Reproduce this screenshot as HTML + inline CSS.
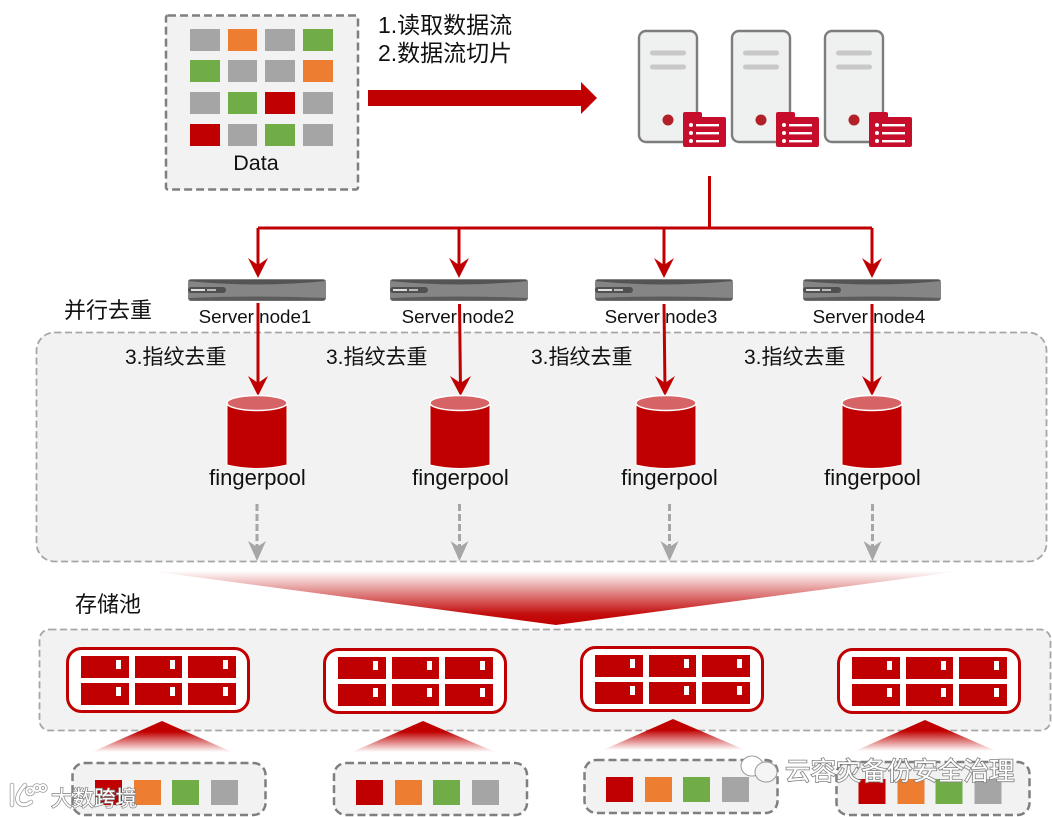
<!DOCTYPE html>
<html><head><meta charset="utf-8">
<style>
html,body{margin:0;padding:0;background:#fff;width:1052px;height:817px;overflow:hidden}
svg{display:block}
text{font-family:"Liberation Sans","Noto Sans CJK SC",sans-serif;fill:#111}
.z{font-size:21px}
.f{font-size:22px;text-anchor:middle}
.s{font-size:18.800px;text-anchor:middle}
.wm{fill:#fff;stroke:#808080;paint-order:stroke}
</style></head><body>
<svg width="1052" height="817" viewBox="0 0 1052 817" xmlns="http://www.w3.org/2000/svg">
<defs>
<linearGradient id="g" x1="0" y1="0" x2="0" y2="1"><stop offset="0" stop-color="#c00000" stop-opacity="0"/><stop offset=".8" stop-color="#c00000" stop-opacity=".95"/><stop offset="1" stop-color="#c00000"/></linearGradient>
<linearGradient id="g2" x1="0" y1="0" x2="0" y2="1"><stop offset="0" stop-color="#c00000"/><stop offset=".35" stop-color="#c00000"/><stop offset="1" stop-color="#c00000" stop-opacity="0"/></linearGradient>
<g id="srv">
<rect x="639" y="31" width="58" height="111" rx="7" fill="#eff0f0" stroke="#7d7d7d" stroke-width="2.400"/>
<rect x="650" y="50.500" width="36" height="5" rx="2.500" fill="#c8c8c8"/>
<rect x="650" y="64.500" width="36" height="5" rx="2.500" fill="#c8c8c8"/>
<circle cx="668" cy="120" r="5.500" fill="#b3202a"/>
<path d="M683 114q0-2 2-2h15q2 0 2 2v3h22q2 0 2 2v26q0 2-2 2h-39q-2 0-2-2z" fill="#c70d2c"/>
<g fill="#fff"><circle cx="691" cy="125" r="2"/><circle cx="691" cy="133" r="2"/><circle cx="691" cy="141" r="2"/>
<rect x="696" y="124" width="23" height="2.400"/><rect x="696" y="132" width="23" height="2.400"/><rect x="696" y="140" width="23" height="2.400"/></g>
</g>
<g id="node">
<rect x="188" y="279" width="138" height="22" rx="3" fill="#858585"/>
<path d="M190 280H324L326 281Q257 288 188 281Z" fill="#545454"/>
<path d="M188 298Q257 295 326 298L324 300.500H190Z" fill="#5c5c5c"/>
<rect x="188" y="287" width="38" height="6" rx="3" fill="#505050"/>
<rect x="191" y="289" width="14" height="2" fill="#e0e0e0"/><rect x="207" y="289" width="9" height="2" fill="#bbb"/>
</g>
<g id="cyl">
<path d="M227 403V465Q257 472 287 465V403Z" fill="#c00000" stroke="#fff" stroke-width="1"/>
<ellipse cx="257" cy="403" rx="30" ry="7.500" fill="#d66467" stroke="#fff" stroke-width="1.500"/>
</g>
<g id="rack">
<rect x="67.500" y="648.500" width="181" height="63" rx="14" fill="#fff" stroke="#c00000" stroke-width="3"/>
<g fill="#c00000">
<rect x="81" y="656" width="48" height="22"/><rect x="135" y="656" width="47" height="22"/><rect x="188" y="656" width="48" height="22"/>
<rect x="81" y="683" width="48" height="22"/><rect x="135" y="683" width="47" height="22"/><rect x="188" y="683" width="48" height="22"/>
</g>
<g fill="#fff">
<rect x="116" y="660" width="5" height="9"/><rect x="170" y="660" width="5" height="9"/><rect x="223" y="660" width="5" height="9"/>
<rect x="116" y="687" width="5" height="9"/><rect x="170" y="687" width="5" height="9"/><rect x="223" y="687" width="5" height="9"/>
</g>
</g>
<g id="bins">
<rect x="95" y="780" width="27" height="25" fill="#c00000"/><rect x="134" y="780" width="27" height="25" fill="#ed7d31"/>
<rect x="172" y="780" width="27" height="25" fill="#70ad47"/><rect x="211" y="780" width="27" height="25" fill="#a5a5a5"/>
</g>
</defs>

<rect x="0" y="0" width="1052" height="817" fill="#fff"/>

<!-- data box -->
<rect x="166" y="15.500" width="192" height="174" rx="2" fill="#f2f2f2" stroke="#7f7f7f" stroke-width="2.500" stroke-dasharray="8 4"/>
<g>
<rect x="190" y="29" width="30" height="22" fill="#a5a5a5"/><rect x="228" y="29" width="29" height="22" fill="#ed7d31"/><rect x="265" y="29" width="30" height="22" fill="#a5a5a5"/><rect x="303" y="29" width="30" height="22" fill="#70ad47"/>
<rect x="190" y="60" width="30" height="22" fill="#70ad47"/><rect x="228" y="60" width="29" height="22" fill="#a5a5a5"/><rect x="265" y="60" width="30" height="22" fill="#a5a5a5"/><rect x="303" y="60" width="30" height="22" fill="#ed7d31"/>
<rect x="190" y="92" width="30" height="22" fill="#a5a5a5"/><rect x="228" y="92" width="29" height="22" fill="#70ad47"/><rect x="265" y="92" width="30" height="22" fill="#c00000"/><rect x="303" y="92" width="30" height="22" fill="#a5a5a5"/>
<rect x="190" y="124" width="30" height="22" fill="#c00000"/><rect x="228" y="124" width="29" height="22" fill="#a5a5a5"/><rect x="265" y="124" width="30" height="22" fill="#70ad47"/><rect x="303" y="124" width="30" height="22" fill="#a5a5a5"/>
</g>
<text x="256" y="170" class="f" style="font-size:21.500px">Data</text>
<text x="378" y="33" style="font-size:23px">1.读取数据流</text>
<text x="378" y="61" style="font-size:23px">2.数据流切片</text>
<polygon points="368,90 581,90 581,82 597,98 581,114 581,106 368,106" fill="#c00000"/>

<!-- servers -->
<use href="#srv"/><use href="#srv" x="93"/><use href="#srv" x="186"/>

<!-- distribution -->
<g fill="none" stroke="#c00000" stroke-width="3">
<path d="M709.500 176V228M258 228H872M258 228V272M459 228V272M664 228V272M872 228V272"/>
</g>
<g fill="#c00000">
<path d="M248 258L258 265L268 258L258 278Z"/>
<path d="M449 258L459 265L469 258L459 278Z"/>
<path d="M654 258L664 265L674 258L664 278Z"/>
<path d="M862 258L872 265L882 258L872 278Z"/>
</g>

<!-- nodes -->
<use href="#node"/><use href="#node" x="202"/><use href="#node" x="407"/><use href="#node" x="615"/>

<!-- parallel region -->
<text x="64" y="318" style="font-size:22px">并行去重</text>
<rect x="36.500" y="332.500" width="1010" height="229" rx="18" fill="#f2f2f2" stroke="#a6a6a6" stroke-width="1.800" stroke-dasharray="7 3.500"/>

<text x="255" y="323" class="s">Server node1</text>
<text x="458" y="323" class="s">Server node2</text>
<text x="661" y="323" class="s">Server node3</text>
<text x="869" y="323" class="s">Server node4</text>

<text x="125" y="364" class="z">3.指纹去重</text>
<text x="326" y="364" class="z">3.指纹去重</text>
<text x="531" y="364" class="z">3.指纹去重</text>
<text x="744" y="364" class="z">3.指纹去重</text>

<g stroke="#c00000" stroke-width="3" fill="none">
<path d="M258 303V390M459.500 304L460.500 390M664 304L665 390M872 304V390"/>
</g>
<g fill="#c00000">
<path d="M248 376L258 383L268 376L258 396Z"/>
<path d="M450 376L460.500 383L471 376L460.500 396Z"/>
<path d="M655 376L665 383L675 376L665 396Z"/>
<path d="M862 376L872 383L882 376L872 396Z"/>
</g>

<use href="#cyl"/><use href="#cyl" x="203"/><use href="#cyl" x="409"/><use href="#cyl" x="615"/>

<text x="257.500" y="485" class="f">fingerpool</text>
<text x="460.500" y="485" class="f">fingerpool</text>
<text x="669.500" y="485" class="f">fingerpool</text>
<text x="872.500" y="485" class="f">fingerpool</text>

<g stroke="#a6a6a6" stroke-width="3" fill="none" stroke-dasharray="7 3">
<path d="M257 504V552M459.500 504V552M669.500 504V552M872.500 504V552"/>
</g>
<g fill="#a6a6a6">
<path d="M248 541L257 547L266 541L257 561Z"/>
<path d="M450.500 541L459.500 547L468.500 541L459.500 561Z"/>
<path d="M660.500 541L669.500 547L678.500 541L669.500 561Z"/>
<path d="M863.500 541L872.500 547L881.500 541L872.500 561Z"/>
</g>

<!-- big funnel -->
<polygon points="150,571 962,571 556,625" fill="url(#g)"/>

<!-- storage -->
<text x="75" y="612" style="font-size:22px">存储池</text>
<rect x="39.500" y="629.500" width="1011" height="101" rx="10" fill="#f2f2f2" stroke="#a6a6a6" stroke-width="1.800" stroke-dasharray="7 3.500"/>
<use href="#rack"/>
<use href="#rack" x="257" y="1"/>
<use href="#rack" x="514" y="-1"/>
<use href="#rack" x="771" y="1"/>

<!-- small triangles -->
<polygon points="162,721 92,752 232,752" fill="url(#g2)"/>
<polygon points="423,721 352,752 495,752" fill="url(#g2)"/>
<polygon points="673,719 603,750 745,750" fill="url(#g2)"/>
<polygon points="925,720 855,751 996,751" fill="url(#g2)"/>

<!-- bottom boxes -->
<g fill="#f2f2f2" stroke="#7f7f7f" stroke-width="2.500" stroke-dasharray="8 4">
<rect x="72.500" y="763" width="193" height="52" rx="12"/>
<rect x="334" y="763" width="193" height="52" rx="12"/>
<rect x="584.500" y="760" width="193" height="53" rx="12"/>
<rect x="836.500" y="762" width="193" height="53" rx="12"/>
</g>
<use href="#bins"/>
<use href="#bins" x="261"/>
<use href="#bins" x="511" y="-3"/>
<use href="#bins" x="763.500" y="-1"/>

<!-- watermarks -->
<text x="51" y="806" class="wm" style="font-size:21.500px;stroke-width:1.400px">大数跨境</text>
<g fill="none" stroke="#999" stroke-width="4.500" stroke-linecap="round">
<path d="M12 785V805M25 785Q14 797 19 803Q24 807 31 802"/>
<circle cx="30" cy="791" r="3.500" stroke-width="3.500"/><circle cx="37" cy="788" r="3" stroke-width="3.500"/><circle cx="43" cy="788" r="3" stroke-width="3.500"/>
</g>
<g fill="none" stroke="#fff" stroke-width="3" stroke-linecap="round">
<path d="M12 785V805M25 785Q14 797 19 803Q24 807 31 802"/>
<circle cx="30" cy="791" r="3.500" stroke-width="2"/><circle cx="37" cy="788" r="3" stroke-width="2"/><circle cx="43" cy="788" r="3" stroke-width="2"/>
</g>
<g stroke="#999" stroke-width="1">
<ellipse cx="752" cy="766" rx="11" ry="10" fill="#fff"/>
<ellipse cx="766" cy="772" rx="11" ry="10" fill="#f5f5f5"/>
</g>
<text x="785" y="780" class="wm" style="font-size:25.500px;stroke-width:1.600px">云容灾备份安全治理</text>
</svg>
</body></html>
